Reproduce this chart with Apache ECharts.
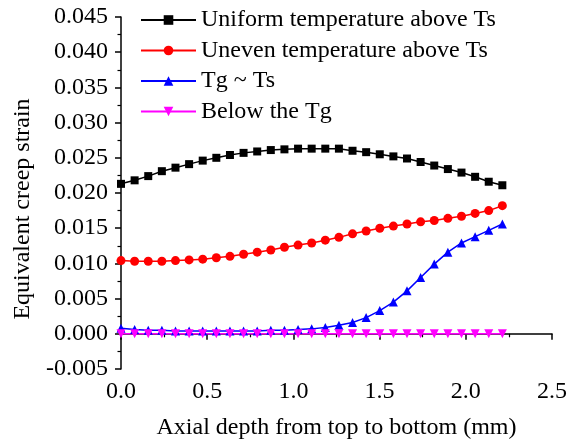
<!DOCTYPE html>
<html>
<head>
<meta charset="utf-8">
<script src="https://cdn.jsdelivr.net/npm/echarts@6/dist/echarts.min.js"></script>
<style>
  html, body { margin: 0; padding: 0; background: #fff; }
  #chart { width: 576px; height: 448px; }
</style>
</head>
<body>
<div id="chart"></div>
<script>
// axial depth (mm)
const depth = [0, 0.079, 0.158, 0.237, 0.316, 0.395, 0.474, 0.553, 0.632, 0.711,
  0.790, 0.869, 0.948, 1.027, 1.106, 1.185, 1.264, 1.343, 1.422, 1.501,
  1.580, 1.659, 1.738, 1.817, 1.896, 1.975, 2.054, 2.133, 2.212]

const uniformAbove = [0.0213, 0.0218, 0.0224, 0.0231, 0.0236, 0.0241, 0.0246, 0.0250, 0.0254, 0.0257,
  0.0259, 0.0261, 0.0262, 0.0263, 0.0263, 0.0263, 0.0263, 0.0260, 0.0258, 0.0255,
  0.0252, 0.0249, 0.0244, 0.0239, 0.0234, 0.0229, 0.0223, 0.0216, 0.0211]

const unevenAbove = [0.0104, 0.0103, 0.0103, 0.0103, 0.0104, 0.0105, 0.0106, 0.0108, 0.0110, 0.0113,
  0.0116, 0.0119, 0.0123, 0.0126, 0.0129, 0.0133, 0.0137, 0.0142, 0.0146, 0.0150,
  0.0153, 0.0156, 0.0159, 0.0161, 0.0164, 0.0167, 0.0171, 0.0175, 0.0182]

const tgToTs = [0.0008, 0.0006, 0.0005, 0.0005, 0.0004, 0.0004, 0.0004, 0.0004, 0.0004, 0.0004,
  0.0004, 0.0005, 0.0005, 0.0006, 0.0007, 0.0009, 0.0012, 0.0016, 0.0023, 0.0033,
  0.0045, 0.0061, 0.0080, 0.0099, 0.0116, 0.0129, 0.0138, 0.0147, 0.0156]

const belowTg = [0, 0, 0, 0, 0, 0, 0, 0, 0, 0,
  0, 0, 0, 0, 0, 0, 0, 0, 0, 0,
  0, 0, 0, 0, 0, 0, 0, 0, 0]

const seriesNames = ['Uniform temperature above Ts', 'Uneven temperature above Ts', 'Tg ~ Ts', 'Below the Tg']

const font = 'Liberation Serif'
const fontSize = 24

const chart = echarts.init(document.getElementById('chart'))

// 轴样式
const axisCommon = {
  axisLine: { lineStyle: { color: '#000', width: 1.5 } },
  axisTick: { inside: false, length: 6, lineStyle: { color: '#000', width: 1.5 } },
  minorTick: { show: true, splitNumber: 2, length: 3.5, lineStyle: { color: '#000', width: 1.2 } },
  splitLine: { show: false },
  nameLocation: 'middle',
  nameTextStyle: { fontFamily: font, fontSize: fontSize, color: '#000' }
}

const pair = (arr) => depth.map((d, i) => [d, arr[i]])

const _series = {
  type: 'line',
  symbolSize: 8,
  lineStyle: { width: 1.5 },
  animation: false
}

const option = {
  backgroundColor: '#fff',
  grid: { left: 121, right: 24, top: 17, bottom: 79, containLabel: false },
  legend: {
    orient: 'vertical',
    left: 140,
    top: 8,
    padding: 0,
    itemWidth: 55,
    itemHeight: 12,
    itemGap: 6.5,
    textStyle: { fontFamily: font, fontSize: fontSize, color: '#000', lineHeight: 24 },
    data: seriesNames
  },
  xAxis: {
    ...axisCommon,
    type: 'value',
    min: 0,
    max: 2.5,
    interval: 0.5,
    name: 'Axial depth from top to bottom (mm)',
    nameGap: 47,
    axisLabel: {
      margin: 11,
      fontFamily: font,
      fontSize: fontSize,
      color: '#000',
      formatter: (v) => v.toFixed(1)
    }
  },
  yAxis: {
    ...axisCommon,
    type: 'value',
    min: -0.005,
    max: 0.045,
    interval: 0.005,
    name: 'Equivalent creep strain',
    nameGap: 84,
    nameTextStyle: { ...axisCommon.nameTextStyle, padding: [0, 32, 0, 0] },
    axisLabel: {
      margin: 13,
      fontFamily: font,
      fontSize: fontSize,
      color: '#000',
      formatter: (v) => v.toFixed(3)
    }
  },
  series: [
    { ..._series, name: seriesNames[0], data: pair(uniformAbove), symbol: 'rect', color: '#000000' },
    { ..._series, name: seriesNames[1], data: pair(unevenAbove), symbol: 'circle', symbolSize: 9, color: '#ff0000' },
    { ..._series, name: seriesNames[2], data: pair(tgToTs), symbol: 'triangle', symbolSize: 9, color: '#0000ff' },
    { ..._series, name: seriesNames[3], data: pair(belowTg), symbol: 'path://M0,0 L10,0 L5,9 Z', symbolSize: 9, color: '#ff00ff' }
  ]
}

chart.setOption(option)
</script>
</body>
</html>
